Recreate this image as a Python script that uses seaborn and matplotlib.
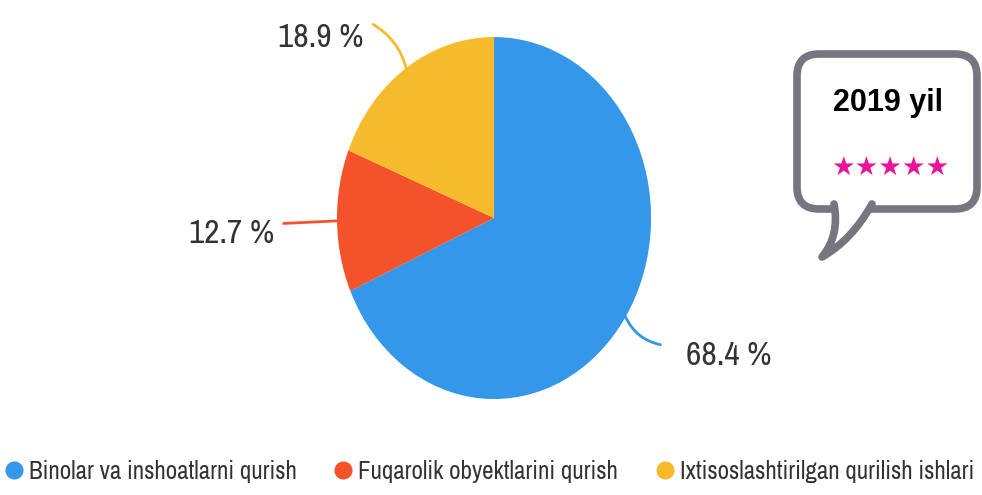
import matplotlib.pyplot as plt
import seaborn as sns
import numpy as np
from matplotlib import font_manager
from matplotlib.lines import Line2D
from matplotlib.patches import FancyBboxPatch, PathPatch
from matplotlib.path import Path

# Datos
categorias = ['Binolar va inshoatlarni qurish',
              'Fuqarolik obyektlarini qurish',
              'Ixtisoslashtirilgan qurilish ishlari']
valores = [68.4, 12.7, 18.9]
etiquetas = ['68.4 %', '12.7 %', '18.9 %']
colores = ['#3497ea', '#f4522a', '#f5bb2c']
titulo_globo = '2019 yil'

sns.set_theme(style='white')

# Buscar una fuente estrecha instalada
nombres = sorted({f.name for f in font_manager.fontManager.ttflist})
estrecha = next((n for n in nombres if 'Condensed' in n or 'Narrow' in n), None)
fuente = [estrecha, 'DejaVu Sans'] if estrecha else ['Liberation Sans', 'DejaVu Sans']
plt.rcParams['font.family'] = fuente
esc = 1.0 if estrecha else 0.85

fig = plt.figure(figsize=(9.82, 4.95), dpi=100)
fig.patch.set_facecolor('white')

# Eje del pastel (ligeramente estirado en vertical como en el original)
ax = fig.add_axes([0.3432, 0.1939, 0.3198, 0.7313])
wedges, _ = ax.pie(valores, colors=colores, startangle=90, counterclock=False,
                   radius=1, wedgeprops=dict(linewidth=0))
ax.set_aspect('auto')
ax.set_xlim(-1, 1)
ax.set_ylim(-1, 1)
ax.axis('off')

# Etiquetas con líneas guía: (fin de línea, posición del texto, alineación, curvatura)
guias = [((1.06, -0.70), (1.22, -0.76), 'left', -0.25),
         ((-1.34, -0.03), (-1.40, -0.09), 'right', 0.0),
         ((-0.77, 1.07), (-0.83, 0.995), 'right', -0.2)]
for w, etq, color, (fin, pos, ha, rad) in zip(wedges, etiquetas, colores, guias):
    ang = np.deg2rad((w.theta1 + w.theta2) / 2)
    borde = (np.cos(ang), np.sin(ang))
    ax.annotate('', xy=borde, xytext=fin, annotation_clip=False,
                arrowprops=dict(arrowstyle='-', color=color, lw=2,
                                connectionstyle=f'arc3,rad={rad}',
                                shrinkA=0, shrinkB=0))
    ax.text(pos[0], pos[1], etq, ha=ha, va='center', fontsize=24 * esc,
            color='#333333', family=fuente)

# Globo de diálogo (decoración)
deco = fig.add_axes([0, 0, 1, 1], zorder=-1)
deco.set_xlim(0, 982)
deco.set_ylim(495, 0)
deco.axis('off')
gris = '#77757f'
caja = FancyBboxPatch((797, 54), 180, 155, boxstyle='round,pad=0,rounding_size=22',
                      facecolor='white', edgecolor=gris, linewidth=5.5)
deco.add_patch(caja)
cola = Path([(834, 204), (840, 235), (822, 257), (852, 240), (872, 204)],
            [Path.MOVETO, Path.CURVE3, Path.CURVE3, Path.CURVE3, Path.CURVE3])
deco.add_patch(PathPatch(cola, facecolor='white', edgecolor=gris, linewidth=5.5,
                         capstyle='round', joinstyle='round'))
deco.text(888, 103, titulo_globo, ha='center', va='center', fontsize=22,
          fontweight='bold', color='black', family=['Liberation Sans', 'DejaVu Sans'])
deco.text(890, 168, '★★★★★', ha='center', va='center', fontsize=19,
          color='#e8139a', family=['DejaVu Sans'])

# Leyenda
manijas = [Line2D([], [], marker='o', linestyle='', markersize=12,
                  markerfacecolor=c, markeredgecolor=c) for c in colores]
fig.legend(manijas, categorias, loc='center', bbox_to_anchor=(0.498, 0.048), ncol=3,
           frameon=False, fontsize=18 * esc, handletextpad=0.2,
           columnspacing=1.45, borderpad=0, borderaxespad=0,
           handlelength=0.8, labelcolor='#333333')

fig.savefig('out.png', dpi=100, facecolor='white')
